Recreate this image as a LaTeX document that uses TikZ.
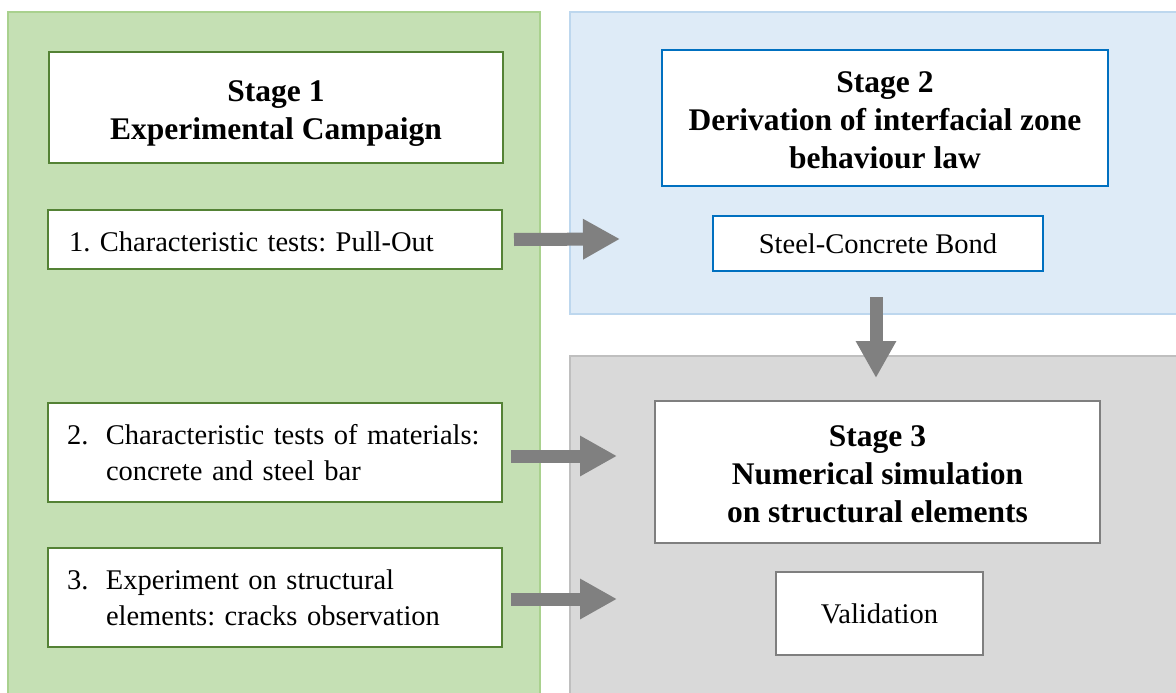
\documentclass[tikz,border=0pt]{standalone}
\usepackage{fontspec}
\setmainfont{Liberation Serif}
\usetikzlibrary{arrows.meta}
\definecolor{gfill}{HTML}{C5E0B4}
\definecolor{gedge}{HTML}{A9D18E}
\definecolor{gbox}{HTML}{548235}
\definecolor{bfill}{HTML}{DEEBF7}
\definecolor{bedge}{HTML}{BDD7EE}
\definecolor{bbox}{HTML}{0070C0}
\definecolor{hfill}{HTML}{D9D9D9}
\definecolor{hedge}{HTML}{BFBFBF}
\definecolor{hbox}{HTML}{7F7F7F}
\definecolor{arr}{HTML}{808080}
\frenchspacing
\tikzset{
  panel/.style={line width=1.5pt},
  box/.style={draw, fill=white, line width=2pt, inner sep=0pt, outer sep=0pt},
  titlebox/.style={box, align=center, font=\fontsize{31.5}{38}\selectfont\bfseries},
  plainbox/.style={box, align=center, font=\fontsize{28.5}{35}\selectfont},
  listbox/.style={box, align=left, font=\fontsize{28.5}{36}\selectfont},
  bigarrow/.style={draw=arr, line width=13pt, -{Triangle[length=37pt,width=38pt,fill=arr]}},
}
\begin{document}
\begin{tikzpicture}[x=1pt,y=-1pt]
\useasboundingbox (0,0) rectangle (1176,693);
% panels
\path[panel, fill=gfill, draw=gedge] (8,12) rectangle (540,700);
\path[panel, fill=bfill, draw=bedge] (570,12) rectangle (1185,314);
\path[panel, fill=hfill, draw=hedge] (570,356) rectangle (1185,700);
% stage 1
\node[titlebox, draw=gbox, minimum width=454pt, minimum height=111pt] (s1) at (276,107.5)
  {\rule{0pt}{32pt}Stage 1\\Experimental Campaign};
\node[listbox, draw=gbox, text width=412pt, inner xsep=21pt, minimum height=59pt] (b1) at (275,239.5)
  {\rule{0pt}{24pt}1. Characteristic tests: Pull-Out};
\node[listbox, draw=gbox, text width=416pt, inner xsep=19pt, minimum height=99pt] (b2) at (275,452.5)
  {\makebox[39pt][l]{2.}\mbox{Characteristic tests of materials:}\\\hspace*{39pt}concrete and steel bar};
\node[listbox, draw=gbox, text width=416pt, inner xsep=19pt, minimum height=99pt] (b3) at (275,597.5)
  {\makebox[39pt][l]{3.}Experiment on structural\\\hspace*{39pt}elements: cracks observation};
% stage 2
\node[titlebox, draw=bbox, minimum width=446pt, minimum height=136pt] (s2) at (885,118)
  {\rule{0pt}{26pt}Stage 2\\Derivation of interfacial zone\\behaviour law};
\node[plainbox, draw=bbox, minimum width=330pt, minimum height=55pt] (bond) at (878,243.5)
  {Steel-Concrete Bond};
% stage 3
\node[titlebox, draw=hbox, minimum width=445pt, minimum height=142pt] (s3) at (877.5,472)
  {\rule{0pt}{26pt}Stage 3\\Numerical simulation\\on structural elements};
\node[plainbox, draw=hbox, minimum width=207pt, minimum height=83pt] (val) at (879.5,613.5)
  {Validation};
% arrows
\coordinate (t1) at (620,239);
\coordinate (t2) at (617,456);
\coordinate (t3) at (617,599);
\coordinate (t4) at (876,378);
\draw[bigarrow] ([xshift=12pt]b1.east) -- (t1);
\draw[bigarrow] ([xshift=9pt,yshift=-3.5pt]b2.east) -- (t2);
\draw[bigarrow] ([xshift=9pt,yshift=-1.5pt]b3.east) -- (t3);
\draw[bigarrow] ([yshift=-26pt]bond.south -| t4) -- (t4);
\end{tikzpicture}
\end{document}
